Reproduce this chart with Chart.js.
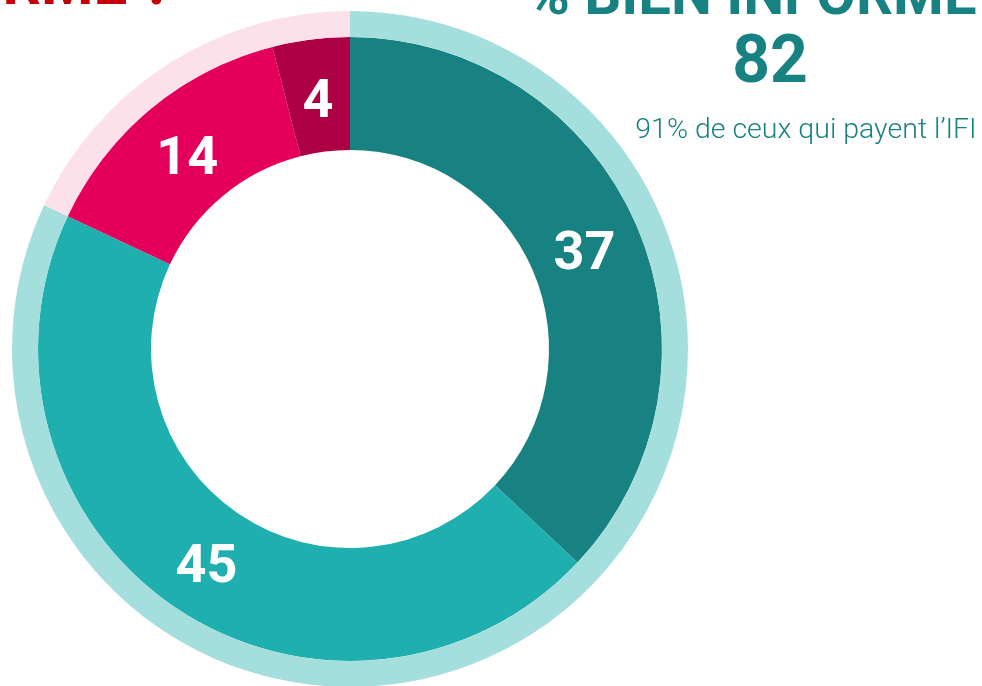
<!DOCTYPE html>
<html lang="fr">
<head>
    <meta charset="UTF-8">
    <title>Bien informé ?</title>
    <script src="https://cdn.jsdelivr.net/npm/chart.js"></script>
    <style>
        body { margin: 0; background: #fff; font-family: Roboto, sans-serif; }
        #wrap { position: relative; width: 982px; height: 686px; overflow: hidden; }
        #chart { position: absolute; left: 0; top: 0; }
        .txt { position: absolute; white-space: nowrap; line-height: 1; }
        #leftTitle { right: 810px; top: -46px; font-size: 60px; font-weight: 700; color: #c40008; }
        #rightTitle { left: 527px; top: -35px; font-size: 58px; font-weight: 700; color: #178281; }
        #bigNumber { left: 670px; width: 200px; text-align: center; top: 27px; font-size: 66px; font-weight: 700; color: #178281; }
        #subtitle { left: 606px; width: 400px; text-align: center; top: 115px; font-size: 28.5px; font-weight: 300; color: #178281; }
    </style>
</head>
<body>
    <div id="wrap">
        <canvas id="chart" width="982" height="700"></canvas>
        <div class="txt" id="leftTitle">BIEN INFORMÉ ?</div>
        <div class="txt" id="rightTitle">% BIEN INFORMÉ</div>
        <div class="txt" id="bigNumber"></div>
        <div class="txt" id="subtitle">91% de ceux qui payent l’IFI</div>
    </div>
    <script>
        // outer ring: informed vs not informed
        const outerCategories = ['Bien informé', 'Mal informé'];
        const outerValues = [82, 18];
        // inner ring: detail
        const innerCategories = ['Très bien', 'Plutôt bien', 'Plutôt mal', 'Très mal'];
        const innerValues = [37, 45, 14, 4];
        const headline = 82;

        const outerColors = ['#a5dfdd', '#fde1ea'];
        const innerColors = ['#178281', '#1eafae', '#e4005a', '#ad0044'];

        document.getElementById('bigNumber').textContent = headline;

        const sliceLabels = {
            id: 'sliceLabels',
            afterDatasetsDraw(chart) {
                const meta = chart.getDatasetMeta(1);
                const ctx = chart.ctx;
                ctx.save();
                ctx.font = '700 54px Roboto';
                ctx.fillStyle = '#ffffff';
                ctx.textAlign = 'center';
                ctx.textBaseline = 'middle';
                meta.data.forEach((arc, i) => {
                    const p = arc.tooltipPosition();
                    ctx.fillText(String(innerValues[i]), p.x, p.y + 8);
                });
                ctx.restore();
            }
        };

        new Chart(document.getElementById('chart').getContext('2d'), {
            type: 'doughnut',
            data: {
                labels: innerCategories,
                datasets: [
                    { label: 'Global', data: outerValues, backgroundColor: outerColors, borderWidth: 0, weight: 26 },
                    { label: 'Détail', data: innerValues, backgroundColor: innerColors, borderWidth: 0, weight: 113 }
                ]
            },
            options: {
                responsive: false,
                animation: false,
                cutout: 199,
                offset: 0,
                hoverOffset: 0,
                layout: { padding: { left: 12, top: 11, right: 294, bottom: 13 } },
                plugins: { legend: { display: false }, tooltip: { enabled: false } }
            },
            plugins: [sliceLabels]
        });
    </script>
</body>
</html>
